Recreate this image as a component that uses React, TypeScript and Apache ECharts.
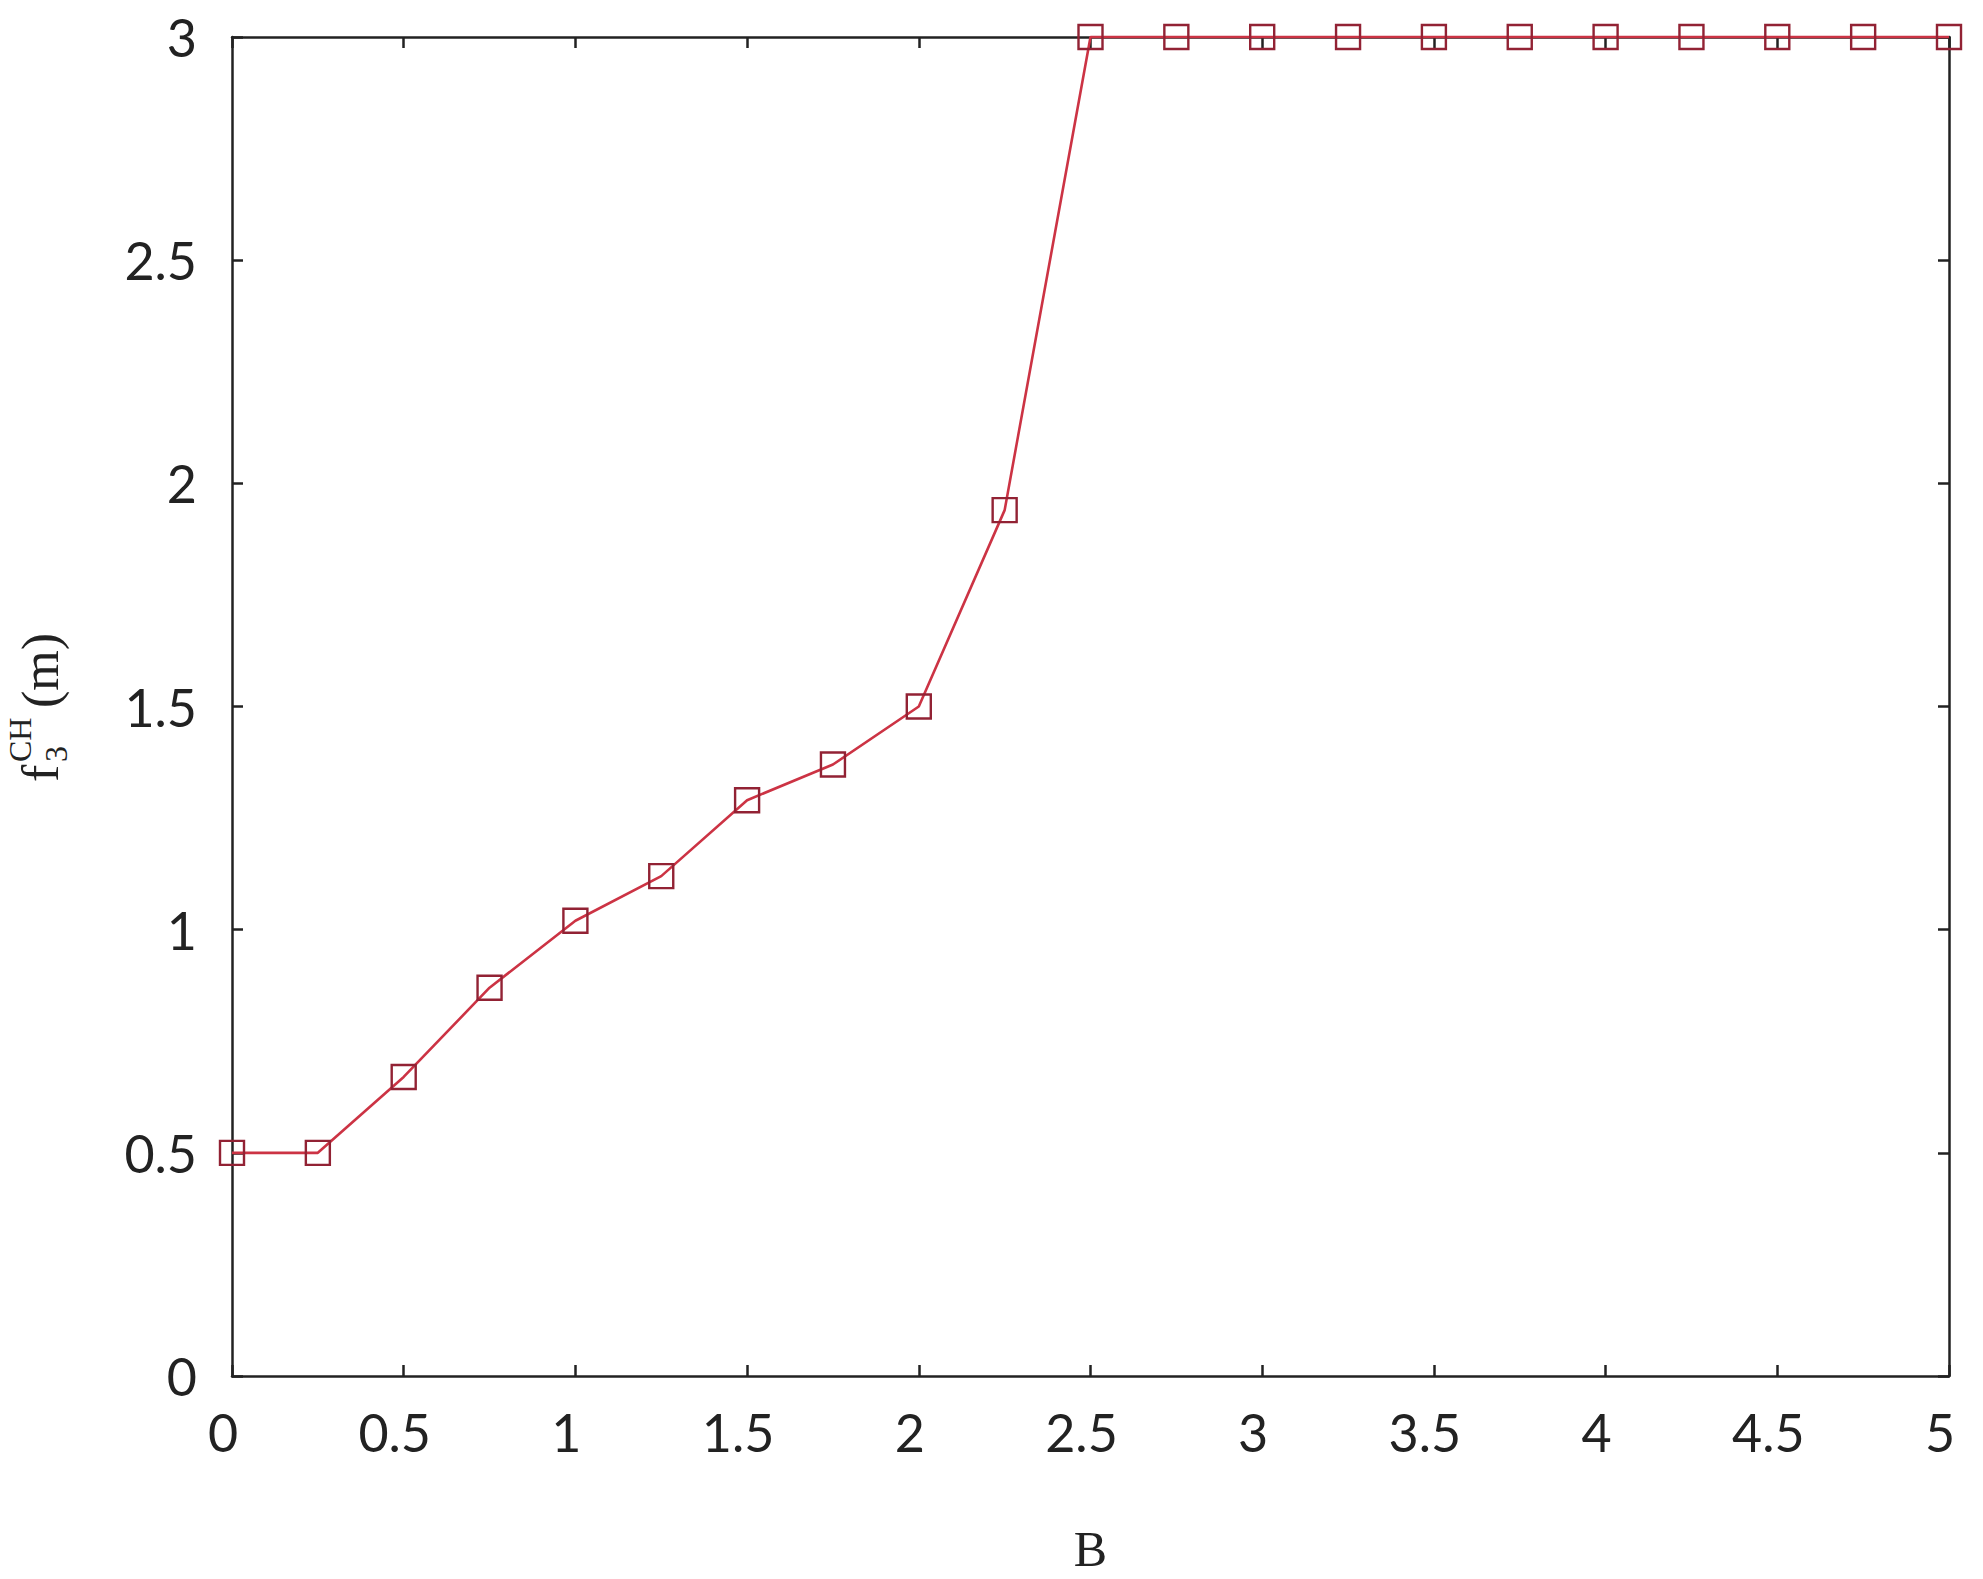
import React, { useEffect, useRef } from "react";
import * as echarts from "echarts";

const bValues = [0, 0.25, 0.5, 0.75, 1, 1.25, 1.5, 1.75, 2, 2.25, 2.5, 2.75, 3, 3.25, 3.5, 3.75, 4, 4.25, 4.5, 4.75, 5];
const fValues = [0.5, 0.5, 0.67, 0.87, 1.02, 1.12, 1.29, 1.37, 1.5, 1.94, 3, 3, 3, 3, 3, 3, 3, 3, 3, 3, 3];
const xAxisTitle = "B";
const yTitleMain = "f";
const yTitleSub = "3";
const yTitleSup = "CH";
const yTitleUnit = "(m)";

const W = 1983;
const H = 1579;

export default function App() {
  const ref = useRef<HTMLDivElement>(null);
  useEffect(() => {
    if (!ref.current) return;
    const chart = echarts.init(ref.current, null, { renderer: "svg" });
    const labelFont = "Lato, 'Open Sans', sans-serif";
    const serif = "'Liberation Serif', 'DejaVu Serif', serif";
    const axisLine = { show: true, onZero: false, lineStyle: { color: "#222", width: 2.5 } };
    const tick = { show: true, inside: true, length: 11, lineStyle: { color: "#222", width: 2.5 } };
    const data = bValues.map((b, i) => [b, fValues[i]]);
    chart.setOption({
      animation: false,
      backgroundColor: "#ffffff",
      grid: { left: 232, top: 37, right: 34, bottom: 199, containLabel: false },
      xAxis: [
        {
          type: "value",
          min: 0,
          max: 5,
          interval: 0.5,
          position: "bottom",
          axisLine,
          axisTick: tick,
          splitLine: { show: false },
          axisLabel: { margin: 30, fontSize: 52, fontFamily: labelFont, color: "#222", padding: [0, 18, 0, 0] },
          name: xAxisTitle,
          nameLocation: "middle",
          nameGap: 173,
          nameTextStyle: { fontSize: 50, fontFamily: serif, color: "#222", verticalAlign: "middle" },
        },
        {
          type: "value",
          min: 0,
          max: 5,
          interval: 0.5,
          position: "top",
          axisLine,
          axisTick: tick,
          splitLine: { show: false },
          axisLabel: { show: false },
        },
      ],
      yAxis: [
        {
          type: "value",
          min: 0,
          max: 3,
          interval: 0.5,
          position: "left",
          axisLine,
          axisTick: tick,
          splitLine: { show: false },
          axisLabel: { margin: 35, fontSize: 52, fontFamily: labelFont, color: "#222" },
        },
        {
          type: "value",
          min: 0,
          max: 3,
          interval: 0.5,
          position: "right",
          axisLine,
          axisTick: tick,
          splitLine: { show: false },
          axisLabel: { show: false },
        },
      ],
      graphic: [
        {
          type: "group",
          x: 0,
          y: 782,
          rotation: Math.PI / 2,
          children: [
            {
              type: "text",
              x: 0,
              y: 40,
              style: { text: yTitleMain, fontSize: 52, fontFamily: serif, fill: "#222", verticalAlign: "middle", align: "left" },
            },
            {
              type: "text",
              x: 20,
              y: 56,
              style: { text: yTitleSub, fontSize: 32, fontFamily: serif, fill: "#222", verticalAlign: "middle", align: "left" },
            },
            {
              type: "text",
              x: 20,
              y: 20,
              style: { text: yTitleSup, fontSize: 32, fontFamily: serif, fill: "#222", verticalAlign: "middle", align: "left" },
            },
            {
              type: "text",
              x: 74,
              y: 40,
              style: { text: yTitleUnit, fontSize: 52, fontFamily: serif, fill: "#222", verticalAlign: "middle", align: "left" },
            },
          ],
        },
      ],
      series: [
        {
          type: "line",
          data,
          xAxisIndex: 0,
          yAxisIndex: 0,
          clip: false,
          symbol: "rect",
          symbolSize: 24,
          showSymbol: true,
          lineStyle: { color: "#cc3344", width: 2.6 },
          itemStyle: { color: "rgba(255,255,255,0)", borderColor: "#922234", borderWidth: 2.4 },
          z: 3,
        },
      ],
    });
    return () => chart.dispose();
  }, []);
  return <div ref={ref} style={{ position: "fixed", left: 0, top: 0, width: W, height: H }} />;
}
